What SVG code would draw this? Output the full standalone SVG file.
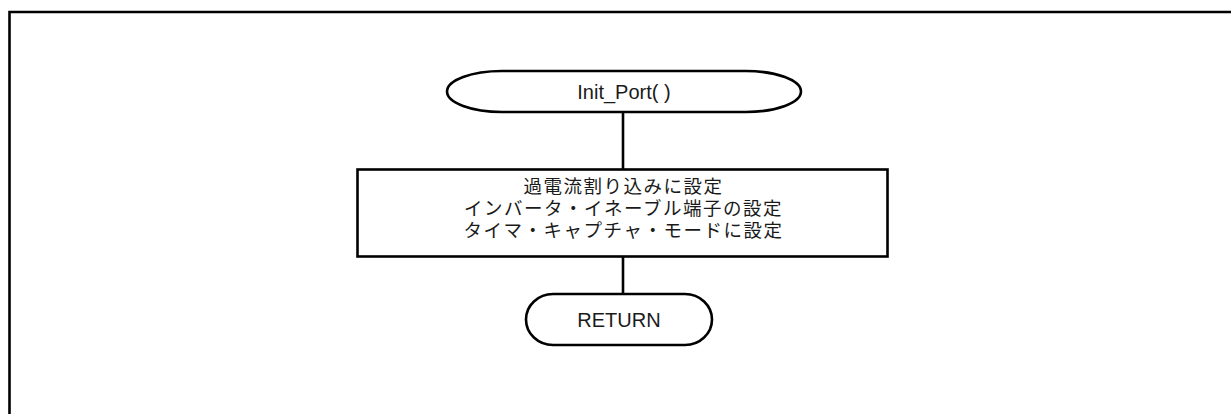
<svg xmlns="http://www.w3.org/2000/svg" width="1231" height="414" viewBox="0 0 1231 414">
<style>
.s{fill:none;stroke:#000;stroke-width:2.6}
.t{font-family:"Liberation Sans",Arial,sans-serif;font-size:20px;fill:#1a1a1a;text-anchor:middle;dominant-baseline:central}
.j{font-family:"Noto Sans CJK JP","Noto Sans CJK SC",sans-serif;font-size:18.5px;letter-spacing:1.5px;fill:#1a1a1a;text-anchor:middle}
</style>
<rect width="1231" height="414" fill="#fff"/>
<path class="s" d="M9.5,420 V12 H1240" stroke-width="2.8"/>
<g id="connectors">
<line class="s" x1="623" y1="112" x2="623" y2="169"/>
<line class="s" x1="623" y1="257" x2="623" y2="294"/>
</g>
<g id="start">
<path class="s" d="M502,71 H746 A55,20.5 0 0 1 746,112 H502 A55,20.5 0 0 1 502,71 Z"/>
<text class="t" x="624" y="92">Init_Port( )</text>
</g>
<g id="process">
<rect class="s" x="357.5" y="169.5" width="530" height="87" stroke-width="3"/>
<text class="j" x="623.5" y="193">過電流割り込みに設定</text>
<text class="j" x="623.5" y="215">インバータ・イネーブル端子の設定</text>
<text class="j" x="623.5" y="237">タイマ・キャプチャ・モードに設定</text>
</g>
<g id="return">
<rect class="s" x="526" y="294" width="186" height="51" rx="27" ry="25.5"/>
<text class="t" x="619" y="320">RETURN</text>
</g>
</svg>
